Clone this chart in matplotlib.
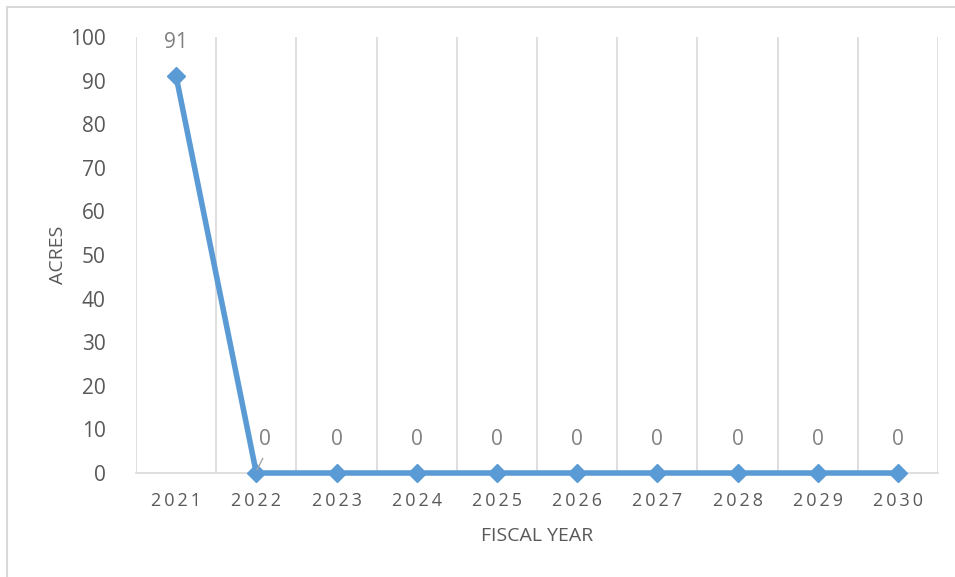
import matplotlib.pyplot as plt
from matplotlib.patches import Rectangle

years = ['2021', '2022', '2023', '2024', '2025', '2026', '2027', '2028', '2029', '2030']
acres = [91, 0, 0, 0, 0, 0, 0, 0, 0, 0]

plt.rcParams['font.family'] = ['Open Sans', 'DejaVu Sans']

fig = plt.figure(figsize=(9.55, 5.77), dpi=100)
ax = fig.add_axes([136 / 955, 1 - 473 / 577, (938 - 136) / 955, (473 - 37) / 577])

# chart border (only top/left visible in the crop)
fig.patches.append(Rectangle((7 / 955, -0.05), 1.1, 1 - 7 / 577 + 0.05,
                             transform=fig.transFigure, fill=False,
                             edgecolor='#d9d9d9', linewidth=1.5))

x = list(range(len(years)))
ax.plot(x, acres, color='#5b9bd5', linewidth=4, marker='D', markersize=9,
        markerfacecolor='#5b9bd5', markeredgecolor='#5b9bd5', zorder=3,
        clip_on=False)

# data labels
for i, v in enumerate(acres):
    if i == 1:
        ax.annotate(str(v), (i, v), xytext=(6, 24), textcoords='offset points',
                    ha='center', va='center', fontsize=15, color='#808080')
        ax.plot([i + 0.01, i + 0.08], [0.8, 3.3], color='#a6a6a6', lw=1, zorder=4)
    else:
        ax.annotate(str(v), (i, v), xytext=(0, 24), textcoords='offset points',
                    ha='center', va='center', fontsize=15, color='#808080')

ax.set_xlim(-0.5, len(years) - 0.5)
ax.set_ylim(0, 100)
ax.set_yticks(range(0, 101, 10))
ax.set_xticks(x)
ax.set_xticklabels(['\u2009'.join(y) for y in years])
ax.set_xticks([i + 0.5 for i in range(-1, len(years))], minor=True)
ax.grid(True, which='minor', axis='x', color='#d9d9d9', linewidth=1.2)
ax.tick_params(axis='both', which='both', length=0)
ax.tick_params(axis='y', pad=22, labelsize=15, labelcolor='#595959')
ax.tick_params(axis='x', pad=14, labelsize=13, labelcolor='#595959')

for s in ['top', 'right', 'left']:
    ax.spines[s].set_visible(False)
ax.spines['bottom'].set_color('#d9d9d9')
ax.spines['bottom'].set_linewidth(1.2)

ax.set_xlabel('FISCAL YEAR', fontsize=14, color='#595959', labelpad=12)
ax.set_ylabel('ACRES', fontsize=14, color='#595959', labelpad=2)

fig.savefig('out.png', dpi=100)
